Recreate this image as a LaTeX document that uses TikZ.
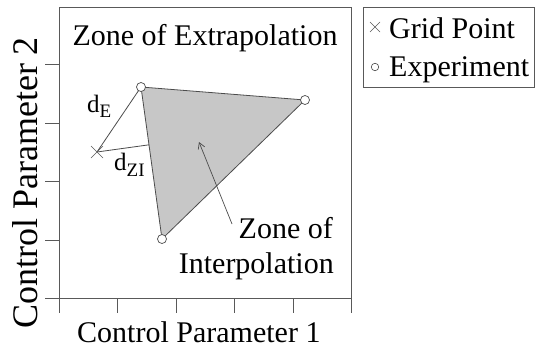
\documentclass[tikz,border=0pt]{standalone}
\usepackage{fontspec}
\setmainfont{Liberation Serif}
\usetikzlibrary{arrows.meta,calc}
\begin{document}
\begin{tikzpicture}[x=1pt,y=-1pt,
  axisline/.style={draw=black!65, line width=0.8pt},
  edgeline/.style={draw=black!70, line width=0.8pt},
  expt/.style={circle, draw=black!70, line width=0.7pt, minimum size=9pt, inner sep=0pt, fill=white},
  lexpt/.style={circle, draw=black!70, line width=0.6pt, minimum size=7.5pt, inner sep=0pt},
  gridpt/.style={draw=black!65, line width=0.7pt},
  big/.style={font=\fontsize{30}{34}\selectfont, inner sep=0pt},
  dlbl/.style={font=\fontsize{25}{30}\selectfont, inner sep=0pt, anchor=base west},
]
\useasboundingbox (0,0) rectangle (535,348);
\fill[white] (0,0) rectangle (535,348);

% frame and axes
\draw[axisline] (45,298) -- (351,298) -- (351,7) -- (59,7) -- (59,313);
\foreach \x in {117,176,234,293,351} \draw[axisline] (\x,298) -- (\x,313);
\foreach \y in {64,123,181,240} \draw[axisline] (45,\y) -- (59,\y);

% triangle (zone of interpolation)
\coordinate (A) at (141,87);
\coordinate (B) at (305,100);
\coordinate (C) at (162,239);
\coordinate (G) at (97,152);
\filldraw[fill=black!22, edgeline] (A) -- (B) -- (C) -- cycle;

% distances
\draw[edgeline] (G) -- (A);
\coordinate (F) at ($(A)!(G)!(C)$);
\draw[edgeline] (G) -- (F);

% markers
\node[expt] (eA) at (A) {};
\node[expt] (eB) at (B) {};
\node[expt] (eC) at (C) {};
\draw[gridpt] ($(G)+(-6,-6)$) -- ($(G)+(6,6)$) ($(G)+(-6,6)$) -- ($(G)+(6,-6)$);

% arrow
\coordinate (arrS) at (232,224);
\coordinate (arrE) at (199,142);
\draw[edgeline, line width=0.7pt, -{Straight Barb[length=6pt,width=7pt]}] (arrS) -- (arrE);

% texts
\node[big, anchor=base] (ext) at (205,45) {Zone of Extrapolation};
\node[big, anchor=base west] (xlab) at (77,342) {Control Parameter 1};
\node[font=\fontsize{36}{40}\selectfont, inner sep=0pt, anchor=base, rotate=90] (ylab) at (37,183) {Control Parameter 2};
\node[dlbl] (dE) at (87,112) {d\raisebox{-5pt}{\fontsize{19}{20}\selectfont E}};
\node[dlbl] (dZI) at (114,170) {d\raisebox{-6pt}{\fontsize{19}{20}\selectfont ZI}};
\node[big, anchor=base east] (zi1) at (333,238) {Zone of};
\node[big, anchor=base east] (zi2) at (334,273) {Interpolation};

% legend
\draw[axisline] (363,7) rectangle (534,87);
\draw[gridpt, line width=0.6pt] (370,22) -- (380,32) (370,32) -- (380,22);
\node[lexpt] (lc) at (375,67) {};
\node[big, anchor=base west] (lg1) at (389,38) {Grid Point};
\node[big, anchor=base west] (lg2) at (389,76) {Experiment};
\end{tikzpicture}
\end{document}
